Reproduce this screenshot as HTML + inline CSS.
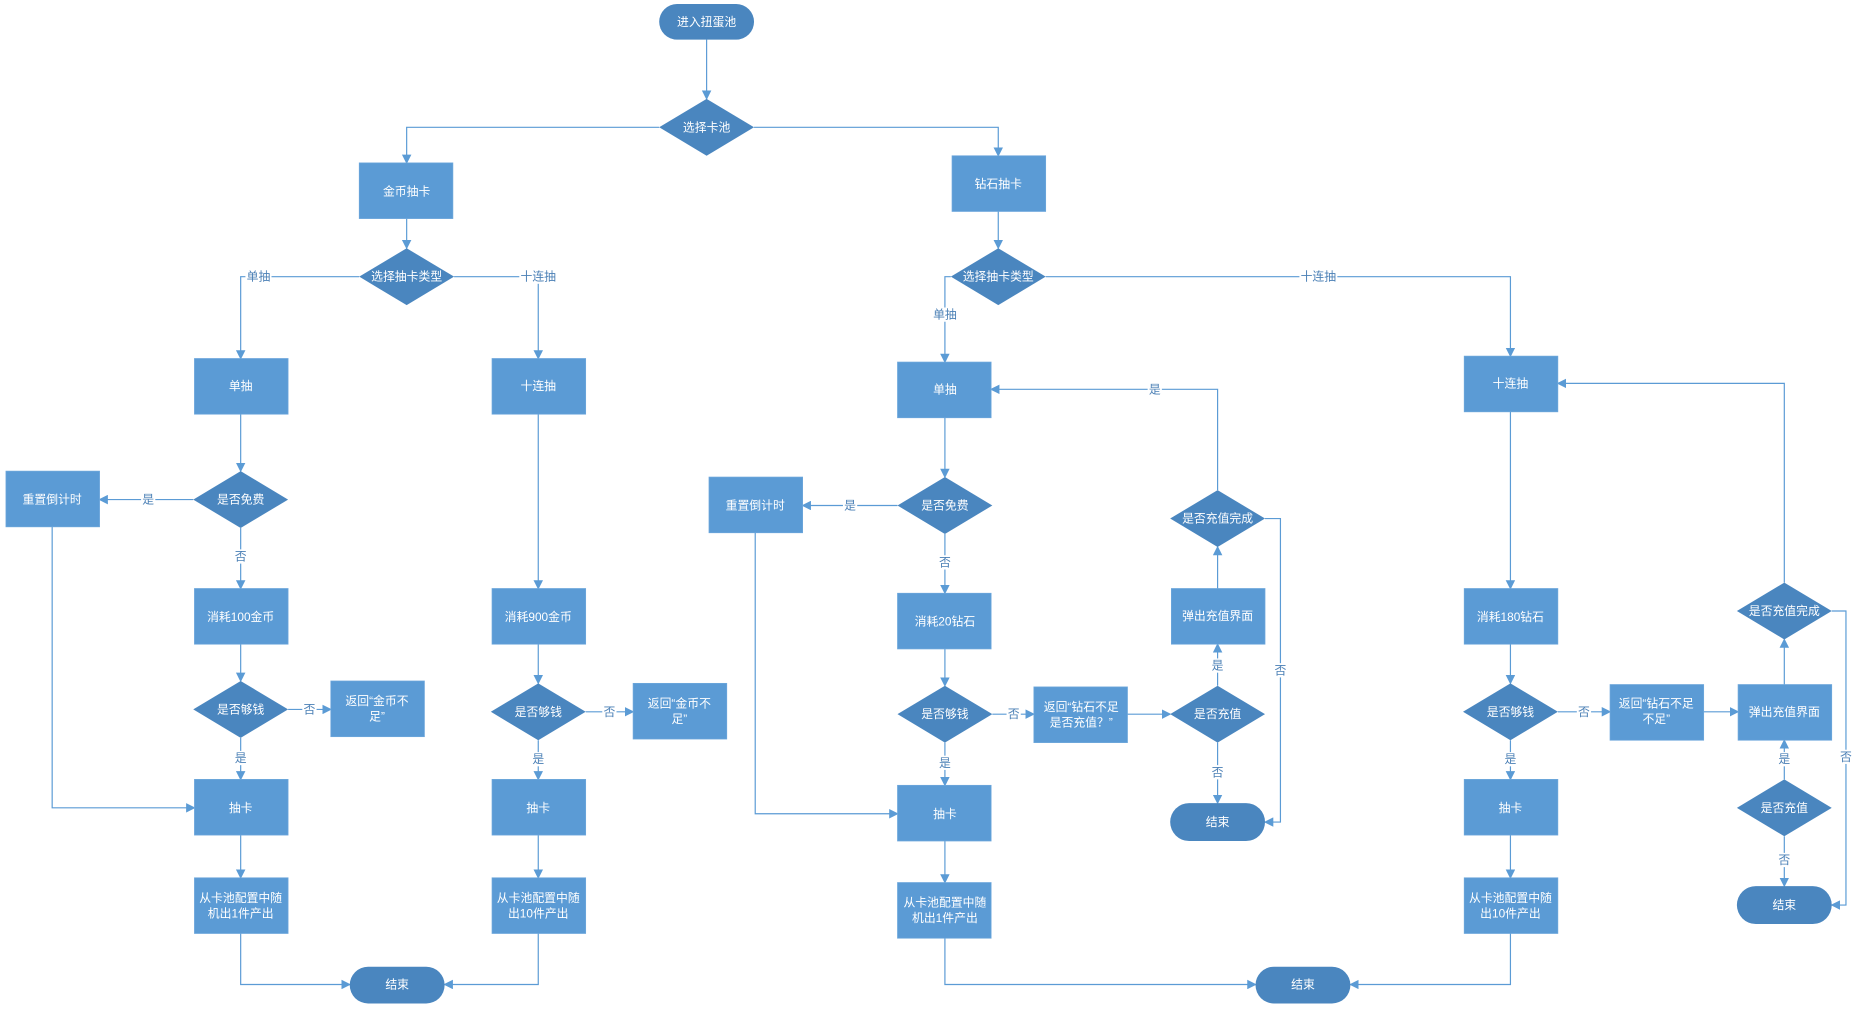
<!DOCTYPE html>
<html><head><meta charset="utf-8"><style>
html,body{margin:0;padding:0;background:#fff;}
svg{display:block;}
text{font-family:"Liberation Sans","Noto Sans CJK SC",sans-serif;font-size:10px;}
.n{fill:#fff;text-anchor:middle;dominant-baseline:central;}
.l{fill:#4a7fb5;text-anchor:middle;dominant-baseline:central;}
.r{fill:#5b9bd5;stroke:#6fa8dc;stroke-width:0.6;}
.d{fill:#4a86bf;}
.c{fill:none;stroke:#5b9bd5;stroke-width:1;}
.lb{fill:#fff;}
</style></head><body>
<svg width="1859" height="1011" viewBox="0 0 1568 852" xmlns="http://www.w3.org/2000/svg">
<defs>
<marker id="a" markerWidth="8" markerHeight="8" refX="7" refY="4" orient="auto" markerUnits="userSpaceOnUse">
<path d="M0,0 L8,4 L0,8 z" fill="#5b9bd5"/></marker>
</defs>
<!-- connectors -->
<g class="c" marker-end="url(#a)">
<path d="M596,33 V83"/>
<path d="M556,107 H343 V137"/>
<path d="M636,107 H842 V131"/>
<path d="M343,184 V209"/>
<path d="M842,178 V209"/>
<path d="M303,233 H203 V302"/>
<path d="M383,233 H454 V302"/>
<path d="M802,233 H797 V305"/>
<path d="M882,233 H1274 V300"/>
<!-- left single -->
<path d="M203,349 V397"/>
<path d="M163,421 H84"/>
<path d="M203,445 V496"/>
<path d="M203,543 V574"/>
<path d="M243,598 H279"/>
<path d="M203,622 V657"/>
<path d="M44,444 V681 H164"/>
<path d="M203,704 V740"/>
<path d="M203,787 V830 H295"/>
<!-- left ten -->
<path d="M454,349 V496"/>
<path d="M454,543 V576"/>
<path d="M494,600 H534"/>
<path d="M454,624 V657"/>
<path d="M454,704 V740"/>
<path d="M454,787 V830 H375"/>
<!-- right single -->
<path d="M797,352 V402"/>
<path d="M757,426 H677"/>
<path d="M797,450 V500"/>
<path d="M797,547 V578"/>
<path d="M837,602 H872"/>
<path d="M797,626 V662"/>
<path d="M951,602 H987"/>
<path d="M1027,626 V677"/>
<path d="M1027,578 V543"/>
<path d="M1027,496 V461"/>
<path d="M1027,413 V328 H836"/>
<path d="M1067,437 H1080 V693 H1067"/>
<path d="M637,449 V686 H757"/>
<path d="M797,709 V744"/>
<path d="M797,791 V830 H1059"/>
<!-- right ten -->
<path d="M1274,347 V496"/>
<path d="M1274,543 V576"/>
<path d="M1314,600 H1358"/>
<path d="M1274,624 V657"/>
<path d="M1437,600 H1466"/>
<path d="M1505,657 V624"/>
<path d="M1505,705 V747"/>
<path d="M1505,577 V539"/>
<path d="M1505,491 V323 H1314"/>
<path d="M1545,515 H1557 V763 H1545"/>
<path d="M1274,704 V740"/>
<path d="M1274,787 V830 H1139"/>
</g>
<!-- nodes -->
<g>
<rect x="556" y="3" width="80" height="30" rx="15" class="d"/>
<text x="596" y="18" class="n">进入扭蛋池</text>
<polygon points="556,107 596,83 636,107 596,131" class="d"/>
<text x="596" y="107" class="n">选择卡池</text>
<rect x="303" y="137" width="79" height="47" class="r"/><text x="343" y="161" class="n">金币抽卡</text>
<rect x="803" y="131" width="79" height="47" class="r"/><text x="842" y="155" class="n">钻石抽卡</text>
<polygon points="303,233 343,209 383,233 343,257" class="d"/><text x="343" y="233" class="n">选择抽卡类型</text>
<polygon points="802,233 842,209 882,233 842,257" class="d"/><text x="842" y="233" class="n">选择抽卡类型</text>

<rect x="164" y="302" width="79" height="47" class="r"/><text x="203" y="325" class="n">单抽</text>
<rect x="415" y="302" width="79" height="47" class="r"/><text x="454" y="325" class="n">十连抽</text>
<polygon points="163,421 203,397 243,421 203,445" class="d"/><text x="203" y="421" class="n">是否免费</text>
<rect x="5" y="397" width="79" height="47" class="r"/><text x="44" y="421" class="n">重置倒计时</text>
<rect x="164" y="496" width="79" height="47" class="r"/><text x="203" y="520" class="n">消耗100金币</text>
<polygon points="163,598 203,574 243,598 203,622" class="d"/><text x="203" y="598" class="n">是否够钱</text>
<rect x="279" y="574" width="79" height="47" class="r"/><text x="318" y="591" class="n">返回“金币不</text><text x="318" y="604" class="n">足”</text>
<rect x="164" y="657" width="79" height="47" class="r"/><text x="203" y="681" class="n">抽卡</text>
<rect x="164" y="740" width="79" height="47" class="r"/><text x="203" y="757" class="n">从卡池配置中随</text><text x="203" y="770" class="n">机出1件产出</text>

<rect x="415" y="496" width="79" height="47" class="r"/><text x="454" y="520" class="n">消耗900金币</text>
<polygon points="414,600 454,576 494,600 454,624" class="d"/><text x="454" y="600" class="n">是否够钱</text>
<rect x="534" y="576" width="79" height="47" class="r"/><text x="573" y="593" class="n">返回“金币不</text><text x="573" y="606" class="n">足”</text>
<rect x="415" y="657" width="79" height="47" class="r"/><text x="454" y="681" class="n">抽卡</text>
<rect x="415" y="740" width="79" height="47" class="r"/><text x="454" y="757" class="n">从卡池配置中随</text><text x="454" y="770" class="n">出10件产出</text>
<rect x="295" y="815" width="80" height="31" rx="15.5" class="d"/><text x="335" y="830" class="n">结束</text>

<rect x="757" y="305" width="79" height="47" class="r"/><text x="797" y="328" class="n">单抽</text>
<polygon points="757,426 797,402 837,426 797,450" class="d"/><text x="797" y="426" class="n">是否免费</text>
<rect x="598" y="402" width="79" height="47" class="r"/><text x="637" y="426" class="n">重置倒计时</text>
<rect x="757" y="500" width="79" height="47" class="r"/><text x="797" y="524" class="n">消耗20钻石</text>
<polygon points="757,602 797,578 837,602 797,626" class="d"/><text x="797" y="602" class="n">是否够钱</text>
<rect x="872" y="579" width="79" height="47" class="r"/><text x="912" y="596" class="n">返回“钻石不足</text><text x="912" y="609" class="n">是否充值？”</text>
<polygon points="987,602 1027,578 1067,602 1027,626" class="d"/><text x="1027" y="602" class="n">是否充值</text>
<rect x="987" y="677" width="80" height="32" rx="16" class="d"/><text x="1027" y="693" class="n">结束</text>
<rect x="988" y="496" width="79" height="47" class="r"/><text x="1027" y="519" class="n">弹出充值界面</text>
<polygon points="987,437 1027,413 1067,437 1027,461" class="d"/><text x="1027" y="437" class="n">是否充值完成</text>
<rect x="757" y="662" width="79" height="47" class="r"/><text x="797" y="686" class="n">抽卡</text>
<rect x="757" y="744" width="79" height="47" class="r"/><text x="797" y="761" class="n">从卡池配置中随</text><text x="797" y="774" class="n">机出1件产出</text>
<rect x="1059" y="815" width="80" height="31" rx="15.5" class="d"/><text x="1099" y="830" class="n">结束</text>

<rect x="1235" y="300" width="79" height="47" class="r"/><text x="1274" y="323" class="n">十连抽</text>
<rect x="1235" y="496" width="79" height="47" class="r"/><text x="1274" y="520" class="n">消耗180钻石</text>
<polygon points="1234,600 1274,576 1314,600 1274,624" class="d"/><text x="1274" y="600" class="n">是否够钱</text>
<rect x="1358" y="577" width="79" height="47" class="r"/><text x="1397" y="593" class="n">返回“钻石不足</text><text x="1397" y="606" class="n">不足”</text>
<rect x="1466" y="577" width="79" height="47" class="r"/><text x="1505" y="600" class="n">弹出充值界面</text>
<polygon points="1465,515 1505,491 1545,515 1505,539" class="d"/><text x="1505" y="515" class="n">是否充值完成</text>
<polygon points="1465,681 1505,657 1545,681 1505,705" class="d"/><text x="1505" y="681" class="n">是否充值</text>
<rect x="1465" y="747" width="80" height="32" rx="16" class="d"/><text x="1505" y="763" class="n">结束</text>
<rect x="1235" y="657" width="79" height="47" class="r"/><text x="1274" y="681" class="n">抽卡</text>
<rect x="1235" y="740" width="79" height="47" class="r"/><text x="1274" y="757" class="n">从卡池配置中随</text><text x="1274" y="770" class="n">出10件产出</text>
</g>
<!-- connector labels -->
<g>
<rect x="207" y="227" width="22" height="12" class="lb"/><text x="218" y="233" class="l">单抽</text>
<rect x="438" y="227" width="32" height="12" class="lb"/><text x="454" y="233" class="l">十连抽</text>
<rect x="786" y="259" width="22" height="12" class="lb"/><text x="797" y="265" class="l">单抽</text>
<rect x="1096" y="227" width="32" height="12" class="lb"/><text x="1112" y="233" class="l">十连抽</text>
<rect x="119" y="415" width="12" height="12" class="lb"/><text x="125" y="421" class="l">是</text>
<rect x="197" y="463" width="12" height="12" class="lb"/><text x="203" y="469" class="l">否</text>
<rect x="255" y="592" width="12" height="12" class="lb"/><text x="261" y="598" class="l">否</text>
<rect x="197" y="633" width="12" height="12" class="lb"/><text x="203" y="639" class="l">是</text>
<rect x="508" y="594" width="12" height="12" class="lb"/><text x="514" y="600" class="l">否</text>
<rect x="448" y="634" width="12" height="12" class="lb"/><text x="454" y="640" class="l">是</text>
<rect x="711" y="420" width="12" height="12" class="lb"/><text x="717" y="426" class="l">是</text>
<rect x="791" y="468" width="12" height="12" class="lb"/><text x="797" y="474" class="l">否</text>
<rect x="849" y="596" width="12" height="12" class="lb"/><text x="855" y="602" class="l">否</text>
<rect x="791" y="637" width="12" height="12" class="lb"/><text x="797" y="643" class="l">是</text>
<rect x="1021" y="645" width="12" height="12" class="lb"/><text x="1027" y="651" class="l">否</text>
<rect x="1021" y="555" width="12" height="12" class="lb"/><text x="1027" y="561" class="l">是</text>
<rect x="968" y="322" width="12" height="12" class="lb"/><text x="974" y="328" class="l">是</text>
<rect x="1074" y="559" width="12" height="12" class="lb"/><text x="1080" y="565" class="l">否</text>
<rect x="1330" y="594" width="12" height="12" class="lb"/><text x="1336" y="600" class="l">否</text>
<rect x="1268" y="634" width="12" height="12" class="lb"/><text x="1274" y="640" class="l">是</text>
<rect x="1499" y="634" width="12" height="12" class="lb"/><text x="1505" y="640" class="l">是</text>
<rect x="1499" y="719" width="12" height="12" class="lb"/><text x="1505" y="725" class="l">否</text>
<rect x="1551" y="632" width="12" height="12" class="lb"/><text x="1557" y="638" class="l">否</text>
</g>
</svg>
</body></html>
